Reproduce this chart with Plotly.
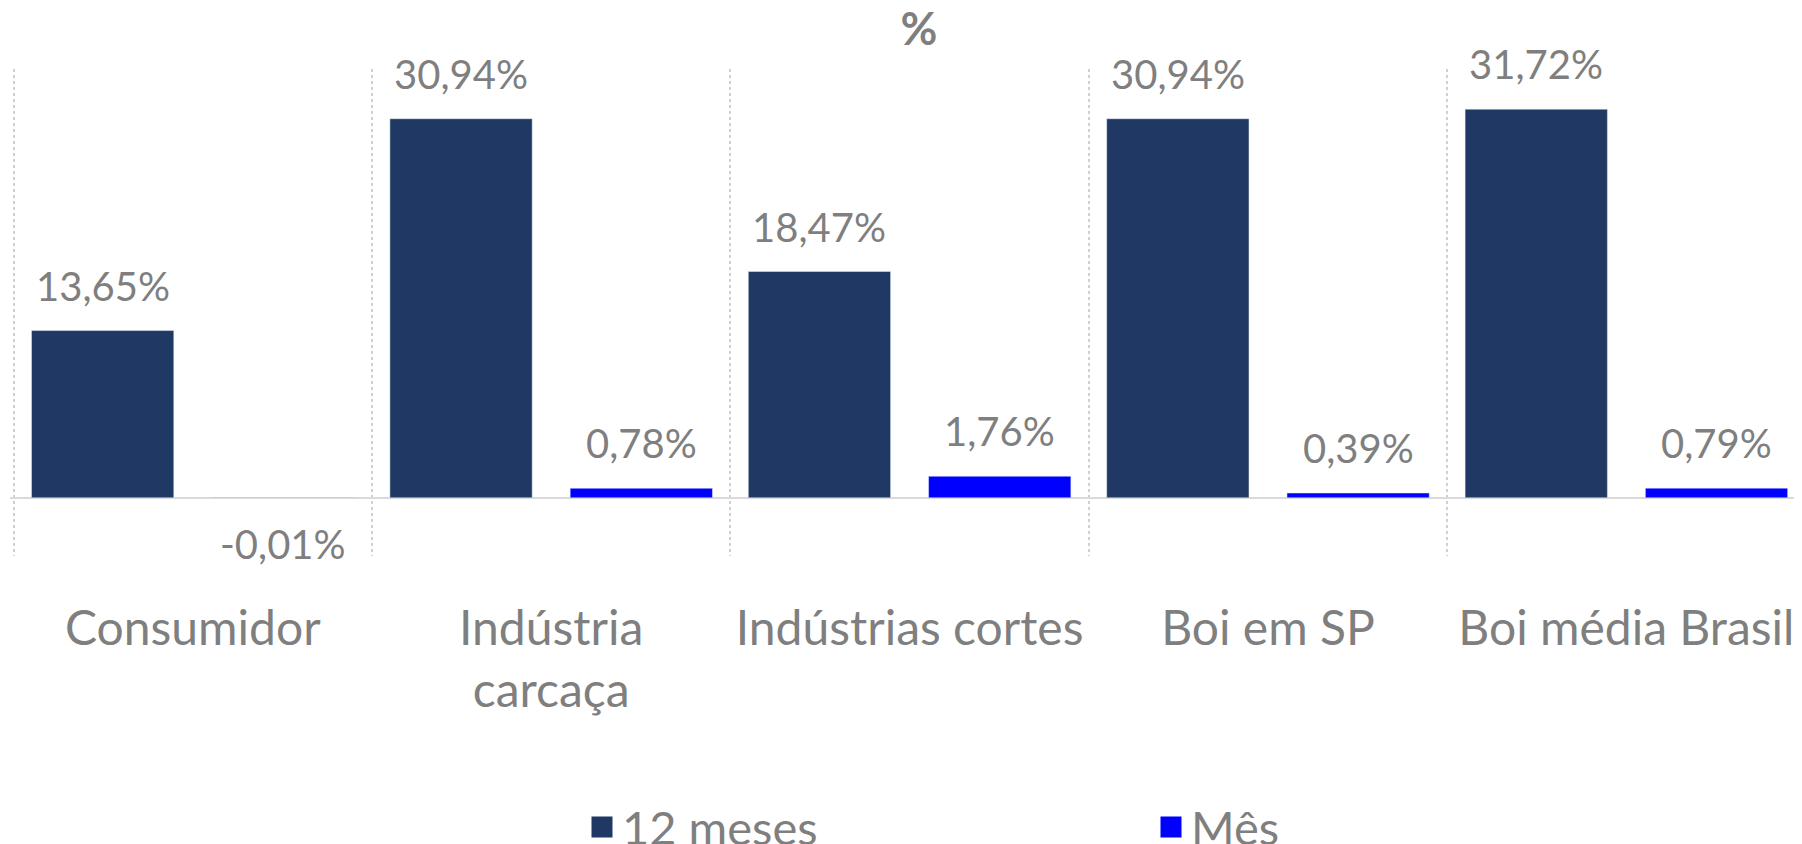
import plotly.graph_objects as go

categories = ["Consumidor", "Indústria<br>carcaça", "Indústrias cortes", "Boi em SP", "Boi média Brasil"]
doze_meses = [13.65, 30.94, 18.47, 30.94, 31.72]
mes = [-0.01, 0.78, 1.76, 0.39, 0.79]
series_names = ["12 meses", "Mês"]
series_colors = ["#203864", "#0000FF"]

GRAY = "#7F7F7F"
FONT = "Lato"
BAR_W = 0.397
OFFSETS = [-0.45, 0.053]

# page has an 8px body margin, so the figure is sized to fit the 1802x844 window
W, H = 1794, 836


def fmt(v):
    return f"{v:.2f}".replace(".", ",") + "%"


fig = go.Figure()
for vals, name, color, off in zip([doze_meses, mes], series_names, series_colors, OFFSETS):
    fig.add_trace(go.Bar(
        x=categories, y=vals, name=name, marker_color=color,
        width=BAR_W, offset=off, showlegend=False,
    ))
    # legend entries
    fig.add_trace(go.Scatter(
        x=[None], y=[None], mode="markers", name=name,
        marker=dict(symbol="square", size=16, color=color, line=dict(width=5, color=color)),
        showlegend=True,
    ))
    # data labels
    for i, v in enumerate(vals):
        fig.add_annotation(
            x=i + off + BAR_W / 2, y=v, xref="x", yref="y",
            text=fmt(v), showarrow=False,
            yanchor="middle", yshift=45 if v >= 0 else -46,
            font=dict(family=FONT, size=40, color=GRAY),
        )

fig.update_layout(
    width=W, height=H,
    margin=dict(l=2, r=0, t=61, b=288, autoexpand=False),
    paper_bgcolor="white", plot_bgcolor="white",
    barmode="group",
    title=dict(text="%", xref="container", x=911 / W, xanchor="center",
               yref="container", y=1 - 21 / H, yanchor="middle",
               font=dict(family=FONT, size=45, color=GRAY, weight="bold")),
    legend=dict(orientation="h", xref="container", yref="container",
                x=574 / W, xanchor="left", y=1 - 782 / H, yanchor="top",
                font=dict(family=FONT, size=47, color=GRAY),
                entrywidth=524, entrywidthmode="pixels",
                bgcolor="rgba(0,0,0,0)"),
    showlegend=True,
    xaxis=dict(
        type="category", range=[-0.51, 4.49],
        showgrid=True, tickson="boundaries", gridcolor="#D0D0D0",
        griddash="dot", gridwidth=2,
        showline=False, ticks="", zeroline=False,
        tickfont=dict(family=FONT, size=48, color=GRAY),
        tickangle=0,
        ticklabelstandoff=40,
    ),
    yaxis=dict(
        range=[-4.75, 35], showgrid=False, showticklabels=False,
        zeroline=True, zerolinecolor="#D9D9D9", zerolinewidth=2,
        showline=False, ticks="",
    ),
)

fig.write_html("out.html")
